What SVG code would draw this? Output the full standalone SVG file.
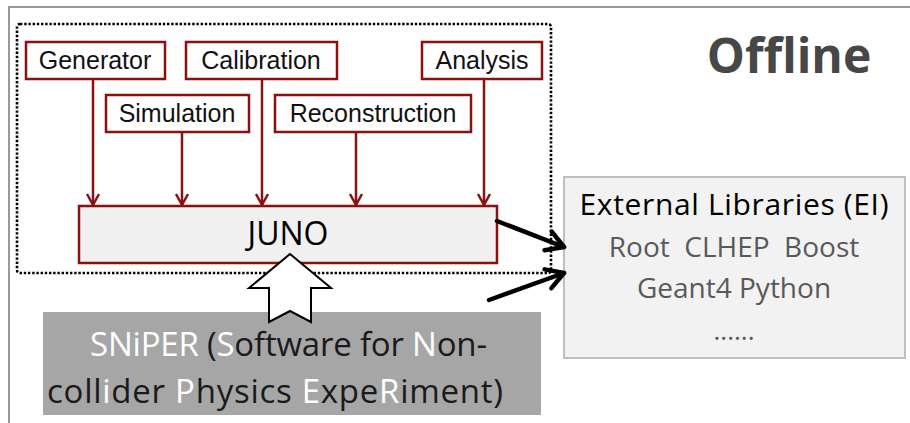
<svg xmlns="http://www.w3.org/2000/svg" width="910" height="423" viewBox="0 0 910 423">
<defs>
<style>
.mod rect{fill:#fff;stroke:#8B1111;stroke-width:2.5}
.mod text{font-family:"Liberation Sans",Arial,sans-serif;font-size:25px;fill:#111;text-anchor:middle}
.seg{font-family:"Open Sans","Noto Sans",sans-serif}
.red{stroke:#8B1111;stroke-width:2.5;fill:none}
.blk{stroke:#000;stroke-width:4.5;fill:none;stroke-linecap:round}
.w{fill:#fff}
</style>
<marker id="ra" markerUnits="userSpaceOnUse" markerWidth="16" markerHeight="16" viewBox="-13 -8 16 16" refX="0" refY="0" orient="auto">
<path d="M-11,-6 L0,0 L-11,6" fill="none" stroke="#8B1111" stroke-width="2.5" stroke-linejoin="round"/>
</marker>
<marker id="ba" markerUnits="userSpaceOnUse" markerWidth="26" markerHeight="26" viewBox="-22 -13 26 26" refX="0" refY="0" orient="auto">
<path d="M-17,-10 L0,0 L-17,10" fill="none" stroke="#000" stroke-width="4.5" stroke-linejoin="round" stroke-linecap="round"/>
</marker>
</defs>
<rect width="910" height="423" fill="#fff"/>
<!-- frame -->
<path d="M9,423 V7 H910" fill="none" stroke="#999" stroke-width="2"/>
<!-- dotted container -->
<rect id="offline-group" x="17" y="24" width="534" height="249" rx="3" fill="none" stroke="#000" stroke-width="2.6" stroke-dasharray="2.4 1.8"/>
<g id="title"><text x="789" y="73" text-anchor="middle" class="seg" font-size="48" font-weight="bold" fill="#474747">Offline</text></g>

<g id="generator" class="mod"><rect x="26" y="42" width="139" height="37"/><text x="95" y="69">Generator</text></g>
<g id="calibration" class="mod"><rect x="186" y="42" width="151" height="37"/><text x="261" y="69">Calibration</text></g>
<g id="analysis" class="mod"><rect x="422" y="42" width="120" height="37"/><text x="482" y="69">Analysis</text></g>
<g id="simulation" class="mod"><rect x="106" y="95" width="143" height="37"/><text x="177" y="122">Simulation</text></g>
<g id="reconstruction" class="mod"><rect x="275" y="95" width="196" height="37"/><text x="373" y="122">Reconstruction</text></g>

<g id="juno"><rect x="79" y="206" width="418" height="57" fill="#F0F0F0" stroke="#8B1111" stroke-width="2.5"/><text x="288" y="245" text-anchor="middle" class="seg" font-size="32" fill="#000">JUNO</text></g>

<g id="external">
<rect x="564" y="177" width="341" height="181" fill="#F2F2F2" stroke="#BFBFBF" stroke-width="2"/>
<text x="734" y="215" text-anchor="middle" class="seg" font-size="30" fill="#000" textLength="309">External Libraries (EI)</text>
<text x="734" y="257" text-anchor="middle" class="seg" font-size="28" fill="#595959" xml:space="preserve">Root  CLHEP  Boost</text>
<text x="734" y="298" text-anchor="middle" class="seg" font-size="28" fill="#595959">Geant4 Python</text>
<text x="734" y="340" text-anchor="middle" class="seg" font-size="26" fill="#595959">......</text>
</g>

<g id="sniper">
<rect x="43" y="312" width="498" height="103" fill="#A6A6A6"/>
<text x="288.5" y="356" text-anchor="middle" class="seg" font-size="33" fill="#1a1a1a" textLength="397"><tspan class="w">SNiPER</tspan> (<tspan class="w">S</tspan>oftware for <tspan class="w">N</tspan>on-</text>
<text x="275" y="403" text-anchor="middle" class="seg" font-size="33" fill="#1a1a1a" textLength="456">coll<tspan class="w">i</tspan>der <tspan class="w">P</tspan>hysics <tspan class="w">E</tspan>xpe<tspan class="w">R</tspan>iment)</text>
</g>

<g id="connectors">
<path class="red" marker-end="url(#ra)" d="M93,79 V205"/>
<path class="red" marker-end="url(#ra)" d="M182,132 V205"/>
<path class="red" marker-end="url(#ra)" d="M262,79 V205"/>
<path class="red" marker-end="url(#ra)" d="M356,132 V205"/>
<path class="red" marker-end="url(#ra)" d="M484,79 V205"/>
<path class="blk" marker-end="url(#ba)" d="M497,221 L564,247"/>
<path class="blk" marker-end="url(#ba)" d="M489,300 L564,273"/>
<path id="sniper-to-juno" d="M290,254 L331,288 L311,288 L311,322 L290,311 L269,322 L269,288 L249,288 Z" fill="#fff" stroke="#000" stroke-width="2" stroke-linejoin="miter"/>
</g>
</svg>
